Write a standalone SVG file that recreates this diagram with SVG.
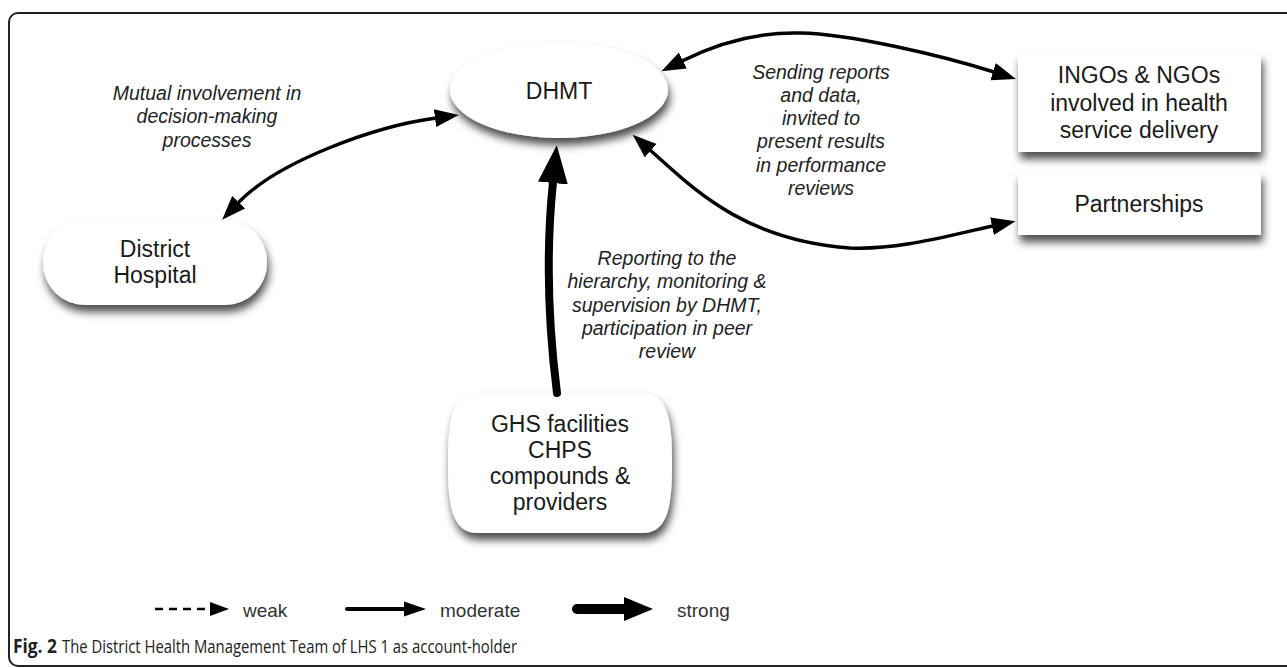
<svg xmlns="http://www.w3.org/2000/svg" width="1287" height="668" viewBox="0 0 1287 668">
  <defs>
    <filter id="shadow" x="-20%" y="-30%" width="140%" height="170%">
      <feDropShadow dx="2" dy="7" stdDeviation="4" flood-color="#000" flood-opacity="0.7"/>
    </filter>
    <marker id="head" markerUnits="userSpaceOnUse" markerWidth="26" markerHeight="20" refX="1" refY="9" orient="auto-start-reverse">
      <path d="M0,0 L24,9 L0,18 Z" fill="#000"/>
    </marker>
    <marker id="headBig" markerUnits="userSpaceOnUse" markerWidth="40" markerHeight="32" refX="1" refY="15" orient="auto">
      <path d="M0,0 L38,15 L0,30 Z" fill="#000"/>
    </marker>
    <style>
      .node { fill: #fff; filter: url(#shadow); }
      .label { font-family: "Liberation Sans", Arial, sans-serif; font-size: 23px; fill: #1a1a1a; text-anchor: middle; }
      .note { font-family: "Liberation Sans", Arial, sans-serif; font-size: 19.5px; font-style: italic; fill: #222; text-anchor: middle; }
      .link { fill: none; stroke: #000; stroke-width: 3.5; }
      .legend { font-family: "Liberation Sans", Arial, sans-serif; font-size: 19px; fill: #333; }
      .caption { font-family: "Open Sans", "Liberation Sans", sans-serif; font-size: 19px; fill: #222; }
    </style>
  </defs>

  <rect width="1287" height="668" fill="#fff"/>
  <!-- frame -->
  <rect x="9" y="13" width="1300" height="653" rx="9" fill="none" stroke="#222" stroke-width="2"/>

  <!-- nodes -->
  <g id="dhmt">
    <ellipse class="node" cx="559" cy="90" rx="109" ry="48"/>
    <text class="label" x="559" y="99">DHMT</text>
  </g>
  <g id="district-hospital">
    <rect class="node" x="43" y="220" width="224" height="85" rx="42" ry="42"/>
    <text class="label" x="155" y="257">District</text>
    <text class="label" x="155" y="283">Hospital</text>
  </g>
  <g id="ghs-facilities">
    <path class="node" d="M478 393 L642 393 C668 393 672 420 672 463 C672 506 668 533 642 533 L478 533 C452 533 448 506 448 463 C448 420 452 393 478 393 Z"/>
    <text class="label" x="560" y="432">GHS facilities</text>
    <text class="label" x="560" y="458">CHPS</text>
    <text class="label" x="560" y="484">compounds &amp;</text>
    <text class="label" x="560" y="510">providers</text>
  </g>
  <g id="ngos">
    <rect class="node" x="1018" y="54" width="243" height="98"/>
    <text class="label" x="1139" y="83">INGOs &amp; NGOs</text>
    <text class="label" x="1139" y="111">involved in health</text>
    <text class="label" x="1139" y="138">service delivery</text>
  </g>
  <g id="partnerships">
    <rect class="node" x="1018" y="172" width="243" height="63"/>
    <text class="label" x="1139" y="212">Partnerships</text>
  </g>

  <!-- connectors -->
  <g id="connectors">
    <path class="link" d="M238 203 C278 161 376 126 436 118" marker-start="url(#head)" marker-end="url(#head)"/>
    <path class="link" d="M682 61 C720 42 760 32 800 33 C850 34 940 55 994 72" marker-start="url(#head)" marker-end="url(#head)"/>
    <path class="link" d="M650 150 C690 185 740 240 850 248 C900 250 950 235 993 226" marker-start="url(#head)" marker-end="url(#head)"/>
    <path d="M557 393 C549 330 545 260 553 182" fill="none" stroke="#000" stroke-width="8" stroke-linecap="round" marker-end="url(#headBig)"/>
  </g>

  <!-- connector labels -->
  <g id="labels">
    <text class="note" x="207" y="100">Mutual involvement in</text>
    <text class="note" x="207" y="123">decision-making</text>
    <text class="note" x="207" y="147">processes</text>

    <text class="note" x="821" y="79">Sending reports</text>
    <text class="note" x="821" y="102">and data,</text>
    <text class="note" x="821" y="125">invited to</text>
    <text class="note" x="821" y="148">present results</text>
    <text class="note" x="821" y="172">in performance</text>
    <text class="note" x="821" y="195">reviews</text>

    <text class="note" x="667" y="265">Reporting to the</text>
    <text class="note" x="667" y="288">hierarchy, monitoring &amp;</text>
    <text class="note" x="667" y="312">supervision by DHMT,</text>
    <text class="note" x="667" y="335">participation in peer</text>
    <text class="note" x="667" y="358">review</text>
  </g>

  <!-- legend -->
  <g id="legend">
    <line x1="155" y1="609" x2="212" y2="609" stroke="#000" stroke-width="2.5" stroke-dasharray="8 6"/>
    <path d="M210 602 L229 609 L210 616 Z" fill="#000"/>
    <text class="legend" x="243" y="617">weak</text>

    <line x1="347" y1="609" x2="408" y2="609" stroke="#000" stroke-width="4" stroke-linecap="round"/>
    <path d="M404 601.5 L426 609 L404 616.5 Z" fill="#000"/>
    <text class="legend" x="440" y="617">moderate</text>

    <line x1="577" y1="609" x2="628" y2="609" stroke="#000" stroke-width="10" stroke-linecap="round"/>
    <path d="M624 597 L653 609 L624 621 Z" fill="#000"/>
    <text class="legend" x="677" y="617">strong</text>
  </g>

  <!-- caption -->
  <g id="caption">
    <text class="caption" x="13" y="653" font-weight="bold" textLength="44" lengthAdjust="spacingAndGlyphs">Fig. 2</text>
    <text class="caption" x="62" y="653" textLength="455" lengthAdjust="spacingAndGlyphs">The District Health Management Team of LHS 1 as account-holder</text>
  </g>
</svg>
